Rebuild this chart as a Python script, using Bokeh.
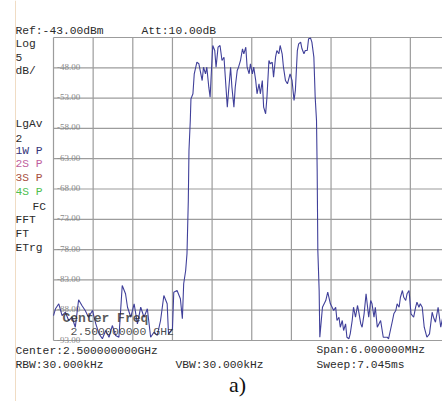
from bokeh.plotting import figure
from bokeh.models import Range1d, Span
from bokeh.core.properties import value
from bokeh.embed import file_html
from bokeh.resources import INLINE

# ---------------- data ----------------
ref_level_dbm = -43.0
db_per_div = 5.0
span_mhz = 6.0

freq_offset_mhz = [
    -3.00, -2.97, -2.92, -2.87, -2.82, -2.77, -2.72, -2.67, -2.62, -2.57,
    -2.52, -2.47, -2.41, -2.36, -2.31, -2.26, -2.21, -2.16, -2.11, -2.06,
    -2.01, -1.96, -1.91, -1.88, -1.83, -1.78, -1.73, -1.68, -1.63, -1.58,
    -1.53, -1.48, -1.43, -1.38, -1.33, -1.28, -1.26, -1.20, -1.18, -1.13,
    -1.08, -1.05, -1.03, -1.00, -0.98, -0.96, -0.95, -0.93, -0.92, -0.89,
    -0.87, -0.83, -0.80, -0.78, -0.75, -0.73, -0.70, -0.68, -0.65, -0.63,
    -0.61, -0.59, -0.56, -0.54, -0.51, -0.48, -0.45, -0.42, -0.40, -0.37,
    -0.35, -0.32, -0.30, -0.27, -0.25, -0.22, -0.20, -0.17, -0.14, -0.12,
    -0.09, -0.07, -0.04, -0.02, 0.01, 0.03, 0.06, 0.08, 0.11, 0.13,
    0.16, 0.18, 0.21, 0.23, 0.26, 0.28, 0.31, 0.33, 0.36, 0.38,
    0.41, 0.43, 0.46, 0.48, 0.51, 0.54, 0.56, 0.58, 0.61, 0.64,
    0.66, 0.69, 0.71, 0.74, 0.76, 0.79, 0.81, 0.84, 0.86, 0.89,
    0.91, 0.94, 0.96, 0.98, 0.99, 1.00, 1.02, 1.03, 1.07, 1.12,
    1.15, 1.19, 1.24, 1.27, 1.29, 1.32, 1.34, 1.37, 1.39, 1.42,
    1.44, 1.47, 1.49, 1.52, 1.54, 1.57, 1.60, 1.62, 1.65, 1.67,
    1.70, 1.73, 1.75, 1.77, 1.80, 1.82, 1.85, 1.87, 1.90, 1.95,
    1.99, 2.05, 2.07, 2.13, 2.15, 2.18, 2.20, 2.23, 2.25, 2.28,
    2.30, 2.33, 2.35, 2.38, 2.41, 2.45, 2.48, 2.50, 2.53, 2.55,
    2.58, 2.61, 2.65, 2.69, 2.73, 2.75, 2.78, 2.82, 2.86, 2.88,
    2.93, 2.99,
]

level_dbm = [
    -88.88, -87.77, -86.94, -88.88, -88.33, -89.70, -89.16, -90.81, -86.28, -87.22,
    -88.05, -89.16, -88.05, -90.25, -91.90, -92.72, -91.35, -92.46, -90.53, -92.17,
    -92.46, -83.92, -85.29, -87.51, -89.16, -86.94, -90.25, -87.51, -89.16, -87.77,
    -92.46, -91.63, -92.17, -89.70, -85.57, -86.94, -91.90, -91.07, -85.03, -84.75,
    -86.12, -89.42, -83.64, -81.45, -78.69, -69.90, -61.65, -56.70, -53.12, -52.29,
    -48.99, -47.08, -47.34, -48.45, -50.10, -47.90, -48.99, -47.90, -51.20, -52.85,
    -48.45, -44.32, -45.15, -47.90, -44.60, -44.32, -46.79, -46.25, -49.55, -54.50,
    -51.75, -47.90, -51.20, -54.50, -51.20, -48.45, -47.90, -46.79, -44.86, -45.69,
    -44.60, -47.90, -48.99, -47.34, -48.99, -47.90, -50.10, -52.29, -50.64, -52.29,
    -50.10, -54.50, -55.59, -52.85, -46.79, -47.34, -47.08, -49.55, -46.25, -45.15,
    -45.69, -44.32, -45.69, -47.90, -50.10, -50.64, -49.81, -48.99, -50.10, -53.40,
    -51.75, -45.15, -44.04, -43.77, -44.86, -45.69, -45.15, -45.15, -43.21, -43.10,
    -43.77, -46.25, -52.85, -56.70, -64.95, -78.15, -84.75, -92.46, -87.51, -86.40,
    -85.03, -86.94, -88.05, -87.51, -89.70, -89.16, -90.81, -89.70, -91.35, -90.25,
    -92.46, -92.72, -91.90, -89.70, -87.51, -89.16, -87.22, -88.33, -90.25, -90.81,
    -88.60, -85.29, -87.22, -89.16, -86.40, -86.94, -89.16, -87.51, -90.81, -89.70,
    -92.46, -92.46, -92.72, -89.70, -88.60, -88.05, -86.94, -87.51, -85.86, -84.75,
    -85.86, -86.40, -85.29, -84.75, -88.60, -89.16, -87.51, -86.68, -87.51, -86.94,
    -87.51, -90.81, -92.46, -91.90, -88.33, -89.16, -89.98, -87.51, -90.81, -89.70,
    -87.20, -89.50,
]

x_grid_mhz = [-3.0, -2.4, -1.8, -1.2, -0.6, 0.0, 0.6, 1.2, 1.8, 2.4, 3.0]
y_grid_dbm = [-93, -88, -83, -78, -73, -68, -63, -58, -53, -48, -43]
y_tick_values = [-48, -53, -58, -63, -68, -73, -78, -83, -88, -93]
y_tick_labels = ["-48.00", "-53.00", "-58.00", "-63.00", "-68.00",
                 "-73.00", "-78.00", "-83.00", "-88.00", "-93.00"]

side_labels = ["Log", "5", "dB/", "LgAv", "2", "1W P", "2S P", "3S P", "4S P",
               "FC", "FFT", "FT", "ETrg"]
side_colors = ["#2b2b2b", "#2b2b2b", "#2b2b2b", "#2b2b2b", "#2b2b2b", "#34347a",
               "#c0609e", "#a8503e", "#4fc04f", "#2b2b2b", "#2b2b2b", "#2b2b2b", "#2b2b2b"]

# ---------------- layout (canvas pixels) ----------------
W, H = 442, 401
FRAME_LEFT = 53.0
FRAME_TOP = 37.0
PX_PER_MHZ = 39.65 / 0.6
PX_PER_DB = 30.3 / db_per_div
X0 = -span_mhz / 2
X1 = span_mhz / 2
Y_BOTTOM = ref_level_dbm - 10 * db_per_div


def dx(px):
    return X0 + (px - FRAME_LEFT) / PX_PER_MHZ


def dy(py):
    return ref_level_dbm - (py - FRAME_TOP) / PX_PER_DB


p = figure(width=W, height=H, output_backend="svg", toolbar_location=None,
           x_range=Range1d(dx(0), dx(W)), y_range=Range1d(dy(H), dy(0)),
           min_border=0, min_border_left=0, min_border_right=0,
           min_border_top=0, min_border_bottom=0)
p.xaxis.visible = False
p.yaxis.visible = False
p.grid.visible = False
p.outline_line_color = None
p.background_fill_color = "white"
p.border_fill_color = "white"

# faint tan edge line at the far left
p.add_layout(Span(location=dx(15), dimension="height", line_color="#f0dcc4", line_width=1))

# graticule
GRID_COLOR = "#9c9c9c"
p.segment(x0=x_grid_mhz, y0=[Y_BOTTOM] * len(x_grid_mhz), x1=x_grid_mhz,
          y1=[ref_level_dbm] * len(x_grid_mhz), line_color=GRID_COLOR, line_width=1.2)
p.segment(x0=[X0] * len(y_grid_dbm), y0=y_grid_dbm, x1=[X1] * len(y_grid_dbm),
          y1=y_grid_dbm, line_color=GRID_COLOR, line_width=1.2)

# level labels inside the graticule
p.text(x=[X0] * len(y_tick_values), y=y_tick_values, text=y_tick_labels,
       x_offset=3.5, y_offset=-1,
       text_font=value("Liberation Sans Narrow"), text_font_size="9px",
       text_color="#8a8a8a", text_baseline="alphabetic", text_align="left")

# trace
p.line(freq_offset_mhz, level_dbm, line_color="#40409a", line_width=1.1)

MONO = "Liberation Mono"
FS = "11.3px"


def add_text(text, px, py, color="#2b2b2b", font=MONO, size=FS, align="left",
             style="normal", alpha=1.0):
    p.text(x=[dx(px)], y=[dy(py)], text=[text], text_font=value(font),
           text_font_size=size, text_color=color, text_align=align,
           text_baseline="middle", text_font_style=style, text_alpha=alpha)


# marker annotation overlay
add_text("Center Freq", 62, 318, color="#2e2e2e", size="13px", style="bold", alpha=0.8)
add_text("2.500000000 GHz", 70, 331, color="#2e2e2e", size="11.5px", alpha=0.85)

# header
add_text("Ref:-43.00dBm", 15, 30.5)
add_text("Att:10.00dB", 141, 30.5)

# left panel
side_y = [43, 56.5, 70, 123, 137.5, 150.5, 163.5, 177, 191, 206, 219, 233, 247]
for t, c, yy in zip(side_labels, side_colors, side_y):
    add_text(t, 32 if t == "FC" else 15, yy, color=c)

# footer
add_text("Center:2.500000000GHz", 15, 350)
add_text("RBW:30.000kHz", 15, 364.5)
add_text("VBW:30.000kHz", 175, 364.5)
add_text("Span:6.000000MHz", 316, 349.5)
add_text("Sweep:7.045ms", 316, 364.5)
add_text("a)", 237, 384, color="#111111", font="Liberation Serif", size="22px", align="center")

open("out.html", "w").write(file_html(p, INLINE))
